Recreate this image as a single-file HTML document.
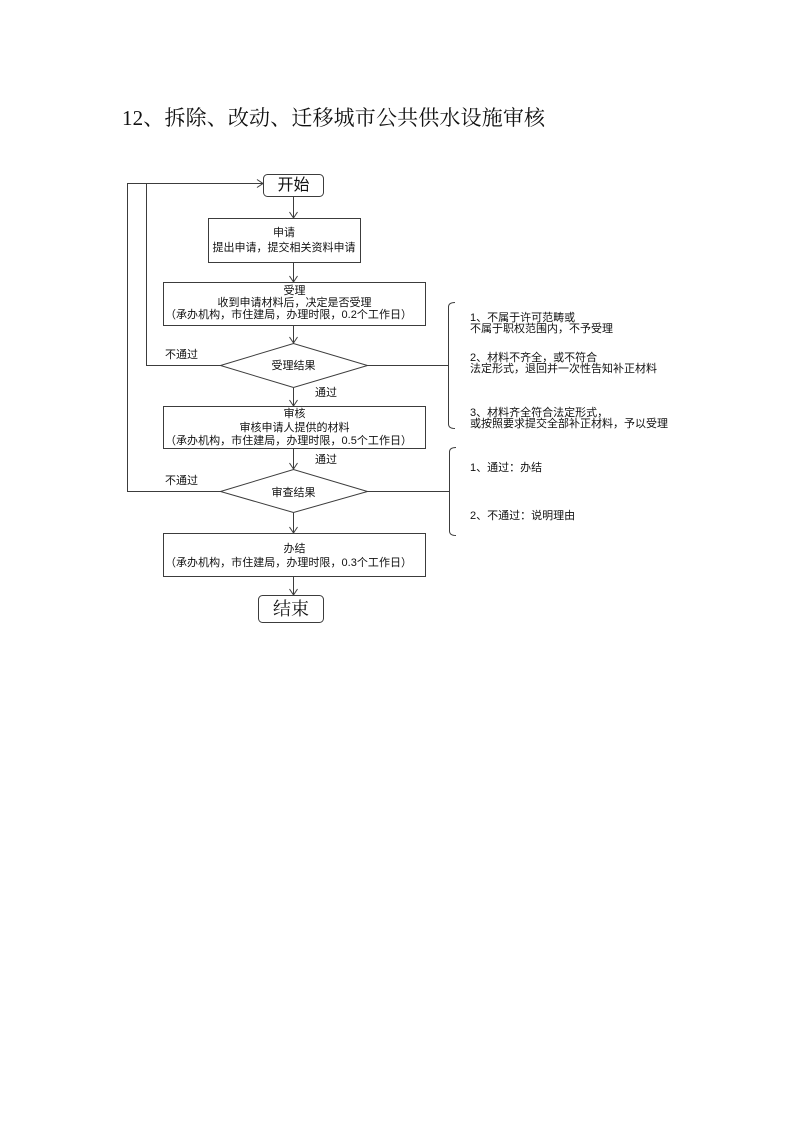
<!DOCTYPE html>
<html><head><meta charset="utf-8"><style>
html,body{margin:0;padding:0;background:#fff;}
svg{display:block;}
text{font-family:"Liberation Sans","Noto Sans CJK SC",sans-serif;fill:#111;}
.t{font-family:"Liberation Serif","Noto Serif CJK SC",serif;}
</style></head><body>
<svg width="793" height="1122" viewBox="0 0 793 1122" xmlns="http://www.w3.org/2000/svg">
<text class="t" x="122" y="125" font-size="21" textLength="423" lengthAdjust="spacing">12、拆除、改动、迁移城市公共供水设施审核</text>
<g fill="none" stroke="#3c3c3c" stroke-width="1">
<rect x="263.5" y="174.5" width="60" height="22" rx="4"/>
<rect x="208.5" y="218.5" width="152" height="44"/>
<rect x="163.5" y="282.5" width="262" height="43"/>
<polygon points="220.5,365.5 293.5,343.5 367.5,365.5 293.5,387.5"/>
<rect x="163.5" y="406.5" width="262" height="42"/>
<polygon points="220.5,491.5 293.5,469.5 367.5,491.5 293.5,512.5"/>
<rect x="163.5" y="533.5" width="262" height="43"/>
<rect x="258.5" y="595.5" width="65" height="27" rx="4"/>
<!-- vertical arrows -->
<line x1="293.5" y1="197" x2="293.5" y2="218"/><polyline points="289.5,212 293.5,218 297.5,212"/>
<line x1="293.5" y1="263" x2="293.5" y2="282"/><polyline points="289.5,276 293.5,282 297.5,276"/>
<line x1="293.5" y1="326" x2="293.5" y2="343"/><polyline points="289.5,337 293.5,343 297.5,337"/>
<line x1="293.5" y1="388" x2="293.5" y2="406"/><polyline points="289.5,400 293.5,406 297.5,400"/>
<line x1="293.5" y1="449" x2="293.5" y2="469"/><polyline points="289.5,463 293.5,469 297.5,463"/>
<line x1="293.5" y1="513" x2="293.5" y2="533"/><polyline points="289.5,527 293.5,533 297.5,527"/>
<line x1="293.5" y1="577" x2="293.5" y2="595"/><polyline points="289.5,589 293.5,595 297.5,589"/>
<!-- loops -->
<polyline points="220.5,491.5 127.5,491.5 127.5,183.5 263,183.5"/>
<polyline points="257,179.5 263,183.5 257,187.5"/>
<polyline points="220.5,365.5 146.5,365.5 146.5,183.5"/>
<!-- brackets -->
<line x1="367.5" y1="365.5" x2="448.5" y2="365.5"/>
<path d="M455,302.5 Q448.5,302.5 448.5,307 L448.5,424 Q448.5,428.5 455,428.5"/>
<line x1="367.5" y1="491.5" x2="449.5" y2="491.5"/>
<path d="M456,447.5 Q449.5,447.5 449.5,452 L449.5,531 Q449.5,535.5 456,535.5"/>
</g>
<g font-size="11" text-anchor="middle">
<text x="293.5" y="190" font-size="16">开始</text>
<text x="284" y="236">申请</text>
<text x="284" y="251">提出申请，提交相关资料申请</text>
<text x="294.5" y="294">受理</text>
<text x="294.5" y="306">收到申请材料后，决定是否受理</text>
<text x="288.5" y="318" textLength="247" lengthAdjust="spacing">（承办机构，市住建局，办理时限，0.2个工作日）</text>
<text x="293.5" y="369">受理结果</text>
<text x="294.5" y="417">审核</text>
<text x="294.5" y="431">审核申请人提供的材料</text>
<text x="288.5" y="444" textLength="247" lengthAdjust="spacing">（承办机构，市住建局，办理时限，0.5个工作日）</text>
<text x="293.5" y="496">审查结果</text>
<text x="294.5" y="552">办结</text>
<text x="288.5" y="566" textLength="247" lengthAdjust="spacing">（承办机构，市住建局，办理时限，0.3个工作日）</text>
<text class="t" x="291" y="615" font-size="18">结束</text>
</g>
<g font-size="11">
<text x="165" y="358">不通过</text>
<text x="315" y="396">通过</text>
<text x="315" y="463">通过</text>
<text x="165" y="484">不通过</text>
<text x="470" y="321">1、不属于许可范畴或</text>
<text x="470" y="332">不属于职权范围内，不予受理</text>
<text x="470" y="361">2、材料不齐全，或不符合</text>
<text x="470" y="372">法定形式，退回并一次性告知补正材料</text>
<text x="470" y="416">3、材料齐全符合法定形式，</text>
<text x="470" y="427">或按照要求提交全部补正材料，予以受理</text>
<text x="470" y="471">1、通过：办结</text>
<text x="470" y="519">2、不通过：说明理由</text>
</g>
</svg>
</body></html>
